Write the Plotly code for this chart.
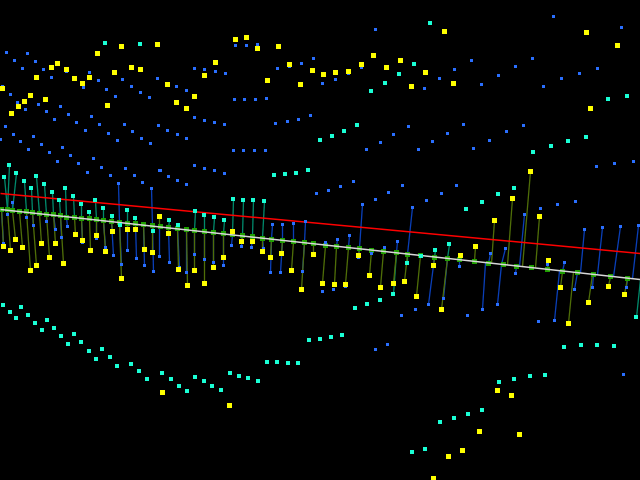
import numpy as np
import plotly.graph_objects as go

# free-standing points (x, y)
yellow_free = [(2,88),(11,113),(18,106),(24,101),(30,95),(45,99),(36,77),(51,67),(57,63),(66,69),(74,78),(82,83),(89,77),(97,53),(121,46),(157,44),(114,72),(131,67),(140,69),(107,105),(167,84),(176,102),(186,108),(194,96),(204,75),(215,62),(235,39),(246,37),(257,48),(278,46),(267,80),(289,64),(300,84),(312,70),(323,74),(335,72),(348,71),(361,64),(373,55),(386,67),(400,60),(411,86),(425,72),(453,83),(444,31),(586,32),(617,45),(590,108),(162,392),(229,405),(497,390),(511,395),(479,431),(519,434),(462,450),(448,456),(433,478)]
cyan_free = [(105,43),(140,44),(430,23),(414,64),(399,74),(385,83),(371,91),(608,99),(627,96),(357,125),(344,131),(332,136),(320,140),(586,137),(568,141),(551,146),(533,152),(274,175),(285,174),(296,173),(308,170),(466,209),(482,202),(498,194),(514,188),(355,308),(367,304),(380,300),
 (3,305),(10,312),(16,318),(21,307),(28,315),(35,323),(42,330),(47,320),(54,328),(61,336),(68,344),(74,334),(81,342),(89,351),(96,359),(102,349),(110,357),(117,366),(131,364),(139,371),(147,379),(162,373),(171,379),(179,386),(187,391),(195,377),(204,381),(212,386),(221,390),(230,373),(239,376),(248,378),(258,381),(267,362),(277,362),(288,363),(298,363),(309,340),(320,339),(331,337),(342,335),(564,347),(581,345),(597,345),(614,346),(499,382),(514,379),(530,376),(545,375),(482,410),(468,414),(454,418),(440,422),(425,449),(412,452)]
blue_free = [(6,52),(14,60),(22,68),(27,53),(35,61),(43,69),(51,77),(66,71),(89,72),(98,80),(106,89),(115,96),(83,87),(122,79),(131,86),(140,92),(149,97),(157,78),(176,86),(186,90),(194,68),(204,69),(215,71),(225,73),(235,45),(246,45),(257,44),(234,99),(244,99),(255,99),(266,98),(277,68),(289,66),(301,63),(313,58),(275,123),(287,121),(298,119),(310,115),(194,117),(204,120),(214,122),(224,124),(233,150),(243,150),(254,150),(265,150),(2,86),(10,94),(17,102),(25,109),(38,104),(46,111),(54,119),(60,106),(68,114),(76,122),(85,130),(91,116),(99,124),(108,133),(117,140),(124,124),(132,131),(141,138),(150,143),(158,125),(167,130),(177,134),(186,138),(5,126),(13,134),(20,141),(28,149),(0,139),(33,136),(41,144),(49,152),(57,161),(62,147),(70,155),(93,158),
 (375,29),(553,16),(621,27),(322,83),(335,79),(348,73),(361,67),(424,88),(439,78),(454,69),(471,60),(481,84),(498,75),(515,66),(532,58),(543,86),(561,78),(579,73),(597,68),(366,149),(380,142),(393,134),(408,126),(418,149),(432,141),(447,133),(463,124),(473,148),(489,140),(506,131),(523,125),
 (78,163),(101,167),(125,168),(87,172),(110,175),(134,175),(142,182),(159,170),(160,170),(168,176),(177,180),(186,184),(194,165),(204,168),(214,170),(224,173),(316,193),(328,190),(340,186),(353,181),(375,199),(388,192),(402,185),(426,200),(441,193),(456,185),(540,208),(557,204),(575,201),(596,166),(614,163),(633,161),(322,291),(333,289),(345,286),(415,309),(467,315),(401,315),(538,321),(375,349),(387,344),(623,374)]

# points joined by a stem to the white line (x, y, x on line)
yellow_stem = [(3,246,1),(10,250,7),(15,239,12),(22,247,19),(30,270,26),(36,265,32),(41,243,39),(49,257,46),(55,243,53),(63,263,60),(75,234,74),(82,240,81),(90,250,89),(96,235,96),(105,251,103),(112,231,111),(121,278,119),(127,229,127),(135,229,135),(144,249,143),(152,252,152),(159,216,159),(168,233,168),(178,269,177),(187,285,186),(194,270,194),(204,283,204),(213,267,213),(223,257,223),(232,231,232),(241,241,242),(252,241,252),(262,251,262),(270,257,271),(281,253,282),(291,270,293),(301,289,304),(313,254,313),(322,283,325),(334,284,336),(345,284,348),(358,255,359),(369,275,371),(380,287,383),(393,283,396),(404,281,407),(416,296,420),(433,265,434),(441,309,447),(460,255,459),(475,246,474),(494,220,491),(512,198,507),(530,171,522),(539,216,535),(548,260,547),(560,287,562),(568,323,573),(588,302,592),(608,286,610),(624,294,627)]
cyan_stem = [(4,177,7),(24,181,26),(31,188,32),(44,184,46),(52,192,53),(65,188,66),(73,196,74),(59,200,60),(81,204,81),(95,200,96),(103,208,103),(89,212,89),(112,216,111),(127,210,127),(135,218,135),(120,225,119),(153,231,152),(9,165,7),(16,173,12),(36,176,39),(233,199,232),(243,200,242),(253,200,252),(264,201,262),(195,211,194),(204,215,204),(214,217,213),(224,220,223),(169,220,168),(178,225,177),(435,250,434),(449,244,447),(393,294,396),(407,263,407),(421,256,420),(636,317,640)]
blue_stem = [(118,183,119),(151,188,152),(113,255,111),(127,250,127),(136,258,135),(153,271,152),(105,247,103),(61,237,60),(67,226,66),(46,221,46),(26,217,26),(33,225,32),(7,214,7),(55,229,53),(12,202,12),(82,242,81),(96,238,96),(3,243,1),(121,264,119),(144,265,143),(159,256,159),(272,224,271),(282,224,282),(293,223,293),(305,221,304),(231,245,232),(241,246,242),(251,247,252),(263,248,262),(169,262,168),(179,267,177),(186,272,186),(194,254,194),(204,259,204),(213,262,213),(223,265,223),(270,272,271),(280,272,282),(302,271,304),(325,242,325),(337,239,336),(349,235,348),(362,204,359),(384,247,383),(397,241,396),(412,207,407),(428,304,434),(459,266,459),(371,253,371),(358,257,359),(443,298,447),(490,253,488),(505,248,501),(524,214,519),(564,262,562),(584,229,580),(602,227,597),(620,226,613),(638,225,632),(482,309,485),(497,304,501),(515,273,516),(554,320,559),(574,289,577),(592,287,593),(626,287,627),(547,264,547)]

# squares along the white line, and the two long lines
green_x = [1,7,12,19,26,32,39,46,53,60,66,74,81,89,96,103,111,119,127,135,143,152,160,168,177,186,194,204,213,223,232,242,252,262,271,282,293,304,313,325,336,348,359,371,383,396,407,420,434,447,459,474,488,503,516,531,547,562,577,593,610,627]
green_y = [209,209,210,211,211,212,213,214,214,215,217,217,218,218,219,220,221,222,223,223,224,225,226,227,228,229,230,231,232,233,234,235,236,238,239,240,241,242,243,245,246,247,248,250,251,252,254,255,257,258,259,261,263,264,266,267,269,271,272,274,276,278]
white_x, white_y = [0, 640], [209, 279]
red_x, red_y = [0, 640], [193, 253]

YELLOW, CYAN, BLUE, GREEN = "#ffff00", "#1affd5", "#2a6fff", "#1f9f00"
D_YELLOW, D_CYAN, D_BLUE = "#4f6e08", "#008a6c", "#0a3fb8"

def stems(pts):
    xs, ys = [], []
    for x, y, b in pts:
        xs += [x, b, None]
        ys += [y, float(np.interp(b, green_x + [640], green_y + [279])), None]
    return xs, ys

def line(xy, color, width=1.3):
    return go.Scatter(x=xy[0], y=xy[1], mode="lines", line=dict(color=color, width=width), hoverinfo="skip")

def pts(x, y, color, size):
    return go.Scatter(x=x, y=y, mode="markers", hoverinfo="skip",
                      marker=dict(symbol="square", size=size, color=color, line=dict(width=0)))

def xy(*lists):
    all_pts = [p[:2] for l in lists for p in l]
    return [p[0] for p in all_pts], [p[1] for p in all_pts]

fig = go.Figure()
fig.add_trace(line(stems(blue_stem), D_BLUE))
fig.add_trace(line(stems(cyan_stem), D_CYAN))
fig.add_trace(line(stems(yellow_stem), D_YELLOW))
fig.add_trace(pts(green_x, green_y, GREEN, 5))
fig.add_trace(line((red_x, red_y), "#ff0000", 1.5))
fig.add_trace(line((white_x, white_y), "#d8d8d8", 1.5))
fig.add_trace(pts(*xy(blue_free, blue_stem), BLUE, 3))
cx, cy = xy(cyan_free, cyan_stem)
fig.add_trace(pts([v - 0.5 for v in cx], [v - 0.5 for v in cy], CYAN, 4))
fig.add_trace(pts(*xy(yellow_free, yellow_stem), YELLOW, 5))

fig.update_layout(width=640, height=480, margin=dict(l=0, r=0, t=0, b=0),
                  paper_bgcolor="#000000", plot_bgcolor="#000000", showlegend=False)
fig.update_xaxes(range=[-0.5, 639.5], visible=False)
fig.update_yaxes(range=[479.5, -0.5], visible=False)
fig.write_html("out.html", config={"displayModeBar": False},
               post_script="document.documentElement.style.background='#000';document.body.style.margin='0';document.body.style.overflow='hidden';")
